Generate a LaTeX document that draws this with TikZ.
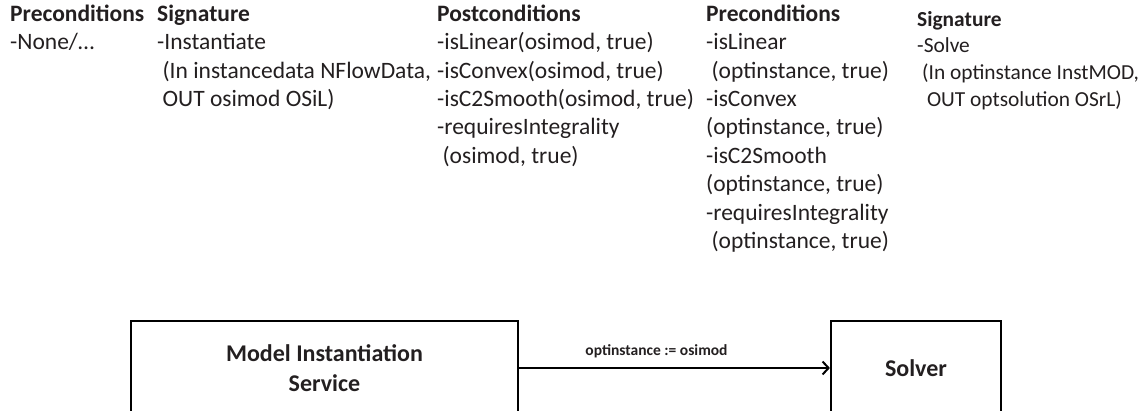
\documentclass[tikz,border=0pt]{standalone}
\usepackage{fontspec}
\setmainfont{Carlito}
\usetikzlibrary{arrows.meta}

\definecolor{ink}{HTML}{231F20}

\begin{document}
\begin{tikzpicture}[x=1pt,y=-1pt,
    every node/.style={text=ink},
    column/.style={anchor=north west, inner sep=0pt, align=left,
      font=\fontsize{23.5}{28.4}\selectfont},
    smallcolumn/.style={column, font=\fontsize{21.4}{26.6}\selectfont},
    service/.style={draw=black, line width=2.2pt, inner sep=0pt,
      align=center, font=\fontsize{24}{30}\selectfont\bfseries},
    flow/.style={line width=2.2pt,
      -{Straight Barb[length=6pt,width=13pt,line width=2pt]}},
    flowlabel/.style={font=\fontsize{15.5}{18}\selectfont\bfseries}]
  \clip (0,0) rectangle (1143,410);

  % first line of each column: fixed height so all columns share one baseline grid
  \newcommand{\firstline}{\rule{0pt}{17pt}}
  \newcommand{\lead}{\hspace*{0.23em}}

  % ---- contract text ----
  \node[column] (pre1) at (10,4)
    {\firstline\textbf{Preconditions}\\-None/…};
  \node[column] (sig1) at (157,4)
    {\firstline\textbf{Signature}\\-Instantiate\\
     \lead(In instancedata NFlowData,\\
     \lead OUT osimod OSiL)};
  \node[column] (post1) at (437,4)
    {\firstline\textbf{Postconditions}\\
     -isLinear(osimod, true)\\
     -isConvex(osimod, true)\\
     -isC2Smooth(osimod, true)\\
     -requiresIntegrality\\
     \lead(osimod, true)};
  \node[column] (pre2) at (706,4)
    {\firstline\textbf{Preconditions}\\
     -isLinear\\
     \lead(optinstance, true)\\
     -isConvex\\
     (optinstance, true)\\
     -isC2Smooth\\
     (optinstance, true)\\
     -requiresIntegrality\\
     \lead(optinstance, true)};
  \node[smallcolumn] (sig2) at (917,9)
    {\firstline\textbf{Signature}\\
     -Solve\\
     \lead(In optinstance InstMOD,\\
     \lead\lead OUT optsolution OSrL)};

  % ---- services ----
  \node[service, minimum width=387pt, minimum height=94pt] (mis) at (324.5,368)
    {Model Instantiation\\Service};
  \node[service, minimum width=170pt, minimum height=94pt] (solver) at (916,368)
    {Solver};

  \draw[flow] (mis.east) -- (solver.west)
    node[flowlabel, midway, above=6pt, xshift=-18pt] (bind) {optinstance := osimod};
\end{tikzpicture}
\end{document}
